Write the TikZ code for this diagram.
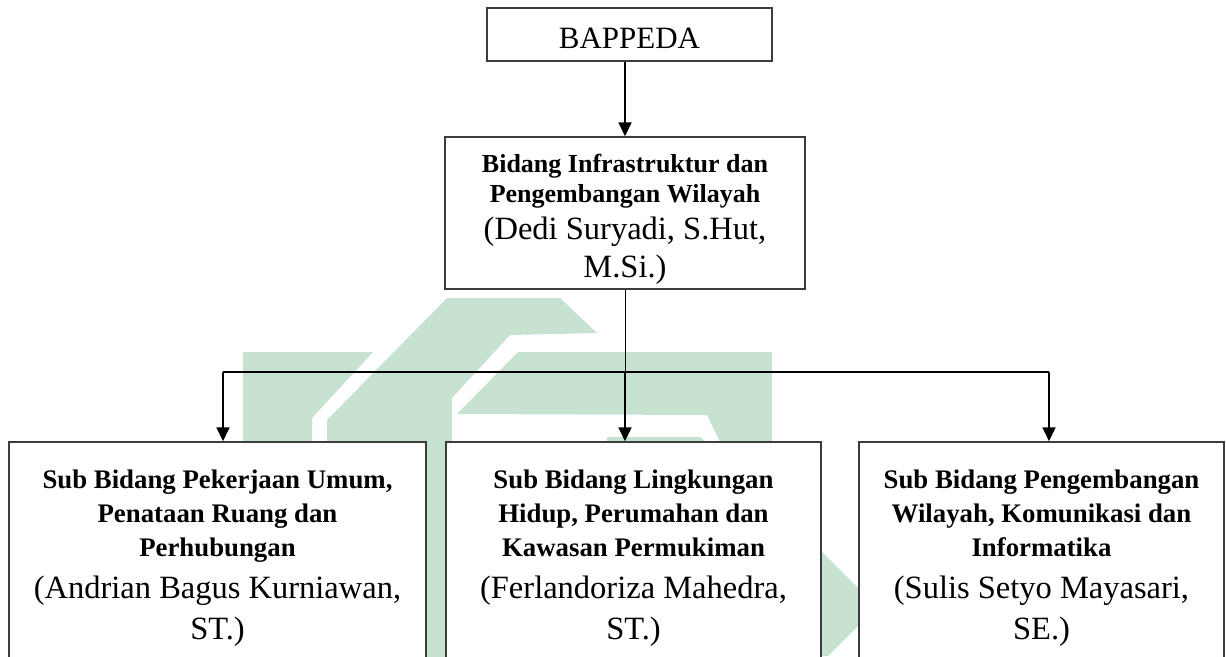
\documentclass[tikz,border=0pt]{standalone}
\usepackage{fontspec}
\setmainfont{Liberation Serif}
\usetikzlibrary{arrows.meta}
\definecolor{wmgreen}{RGB}{200,226,210}
\definecolor{boxline}{RGB}{60,60,60}
\tikzset{
  orgbox/.style={draw=boxline, line width=1.5pt, fill=white, inner sep=0pt},
  orgtext/.style={align=center, inner sep=0pt, anchor=north},
  midfont/.style={font=\fontsize{26}{30}\selectfont},
  lowfont/.style={font=\fontsize{26.8}{34}\selectfont},
  arrowline/.style={line width=1.8pt, -{Triangle[length=14pt,width=13pt]}},
  thinline/.style={line width=1pt},
  busline/.style={line width=1.3pt},
  wm/.style={fill=wmgreen, draw=none}
}
\newcommand{\nmfont}{\fontsize{32.5}{37}\selectfont}
\begin{document}
\begin{tikzpicture}[x=1pt,y=-1pt]
\useasboundingbox (0,0) rectangle (1226,656);
\clip (0,0) rectangle (1226,656);
% watermark shapes
\fill[wm] (243,352) -- (373,352) -- (312,418) -- (312,660) -- (243,660) -- cycle;
\fill[wm] (327,660) -- (327,420) -- (447,298) -- (560,298) -- (597,333) -- (510,335) -- (452,398) -- (452,660) -- cycle;
\fill[wm] (457,414) -- (518,352) -- (772,352) -- (772,442) -- (720,442) -- (707,415) -- cycle;
\fill[wm] (607,437) -- (700,437) -- (706,442) -- (607,442) -- cycle;
\fill[wm] (780,510) -- (877,607) -- (828,656) -- (780,656) -- cycle;
% boxes
\node[orgbox, minimum width=285pt, minimum height=53pt, text height=27pt, text depth=0pt,
      font=\fontsize{31}{36}\selectfont] (bap) at (629.5,34.5) {BAPPEDA};
\node[orgbox, minimum width=360pt, minimum height=152pt] (bid) at (625,213) {};
\node[orgtext, midfont] (bidt) at ([yshift=-17.5pt]bid.north)
  {\textbf{Bidang Infrastruktur dan}\\
   \textbf{Pengembangan Wilayah}\\[7pt]
   {\nmfont (Dedi Suryadi, S.Hut,}\\[8.5pt]
   {\nmfont M.Si.)}};
\node[orgbox, minimum width=417pt, minimum height=258pt] (sb1) at (217.5,571) {};
\node[orgbox, minimum width=375pt, minimum height=258pt] (sb2) at (633.5,571) {};
\node[orgbox, minimum width=365pt, minimum height=258pt] (sb3) at (1041.5,571) {};
\node[orgtext, lowfont] (sb1t) at ([yshift=-28.5pt]sb1.north)
  {\textbf{Sub Bidang Pekerjaan Umum,}\\
   \textbf{Penataan Ruang dan}\\
   \textbf{Perhubungan}\\[8pt]
   {\nmfont (Andrian Bagus Kurniawan,}\\[7pt]
   {\nmfont ST.)}};
\node[orgtext, lowfont] (sb2t) at ([yshift=-28.5pt]sb2.north)
  {\textbf{Sub Bidang Lingkungan}\\
   \textbf{Hidup, Perumahan dan}\\
   \textbf{Kawasan Permukiman}\\[8pt]
   {\nmfont (Ferlandoriza Mahedra,}\\[7pt]
   {\nmfont ST.)}};
\node[orgtext, lowfont] (sb3t) at ([yshift=-28.5pt]sb3.north)
  {\textbf{Sub Bidang Pengembangan}\\
   \textbf{Wilayah, Komunikasi dan}\\
   \textbf{Informatika}\\[8pt]
   {\nmfont (Sulis Setyo Mayasari,}\\[7pt]
   {\nmfont SE.)}};
% connectors
\coordinate (j1) at (223,372);
\coordinate (j2) at (625,372);
\coordinate (j3) at (1049,372);
\draw[arrowline] (bid.north |- bap.south) -- (bid.north);
\draw[thinline] (bid.south) -- (j2);
\draw[busline] (j1) -- (j3);
\draw[arrowline] (j1) -- (j1 |- sb1.north);
\draw[arrowline] (j2) -- (j2 |- sb2.north);
\draw[arrowline] (j3) -- (j3 |- sb3.north);
\end{tikzpicture}
\end{document}
